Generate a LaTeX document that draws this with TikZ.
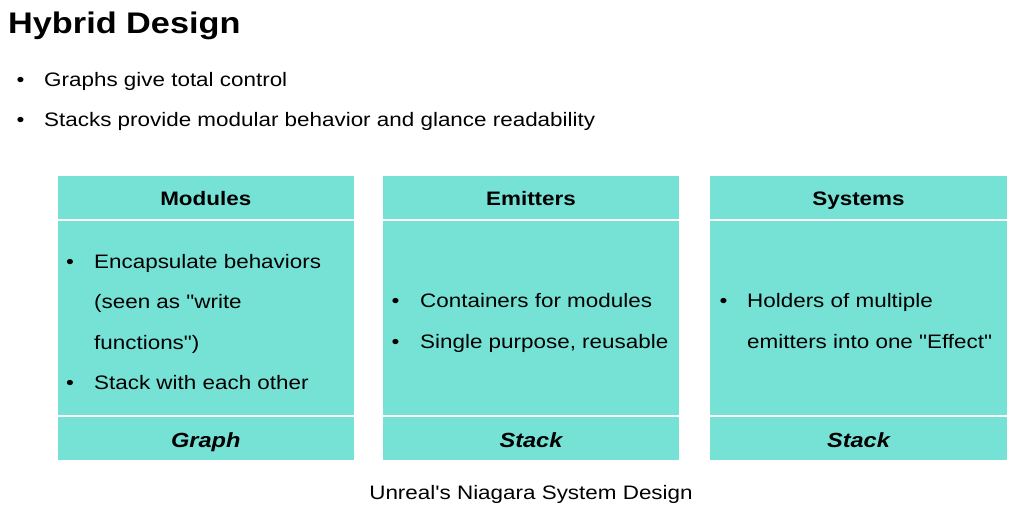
\documentclass[tikz,border=0pt]{standalone}
\usepackage{fontspec}
\setmainfont{Liberation Sans}[FakeStretch=1.15, Ligatures=TeXOff]
\definecolor{teal1}{RGB}{118,226,214}
\tikzset{
  cell/.style={fill=teal1, draw=none},
  sep/.style={draw=white, line width=1.6pt},
  txt/.style={inner sep=0pt, anchor=base west, font=\fontsize{19.5}{23}\selectfont},
  bul/.style={inner sep=0pt, anchor=base west, font=\fontsize{19.5}{23}\selectfont},
  head/.style={inner sep=0pt, anchor=base, font=\fontsize{19.5}{23}\selectfont\bfseries},
  foot/.style={inner sep=0pt, anchor=base, font=\fontsize{20.5}{24}\selectfont\bfseries\itshape},
  ttl/.style={inner sep=0pt, anchor=base west, font=\fontsize{29.8}{34}\selectfont\bfseries},
}
\begin{document}
\begin{tikzpicture}[x=1pt,y=-1pt]
\useasboundingbox (0,0) rectangle (1010,509);
% title and bullets
\node[ttl] (title) at (8,33) {Hybrid Design};
\node[bul] (b1) at (16.5,86) {•};
\node[txt] (t1) at (44,86) {Graphs give total control};
\node[bul] (b2) at (16.5,126.2) {•};
\node[txt] (t2) at (44,126.2) {Stacks provide modular behavior and glance readability};
% boxes
\foreach \n/\l/\r in {A/57.5/354, B/383/679, C/710/1007}{
  \fill[cell] (\l,176) rectangle (\r,460);
  \coordinate (\n1) at (\l,220);
  \coordinate (\n2) at (\r,220);
  \coordinate (\n3) at (\l,416);
  \coordinate (\n4) at (\r,416);
  \draw[sep] (\n1) -- (\n2);
  \draw[sep] (\n3) -- (\n4);
}
% headers
\node[head] (hA) at (205.75,205) {Modules};
\node[head] (hB) at (531,205) {Emitters};
\node[head] (hC) at (858.5,205) {Systems};
% footers
\node[foot] (fA) at (205.75,447.3) {Graph};
\node[foot] (fB) at (531,447.3) {Stack};
\node[foot] (fC) at (858.5,447.3) {Stack};
% box A body
\node[bul] (aA1) at (66,268) {•};
\node[txt] (xA1) at (94,268) {Encapsulate behaviors};
\node[txt] (xA2) at (94,308.5) {(seen as "write};
\node[txt] (xA3) at (94,349) {functions")};
\node[bul] (aA2) at (66,389) {•};
\node[txt] (xA4) at (94,389) {Stack with each other};
% box B body
\node[bul] (aB1) at (391.5,307.3) {•};
\node[txt] (xB1) at (420,307.3) {Containers for modules};
\node[bul] (aB2) at (391.5,348.3) {•};
\node[txt] (xB2) at (420,348.3) {Single purpose, reusable};
% box C body
\node[bul] (aC1) at (719.5,307.3) {•};
\node[txt] (xC1) at (747,307.3) {Holders of multiple};
\node[txt] (xC2) at (747,348.3) {emitters into one "Effect"};
% caption
\node[txt, anchor=base] (cap) at (531,499) {Unreal's Niagara System Design};
\end{tikzpicture}
\end{document}
